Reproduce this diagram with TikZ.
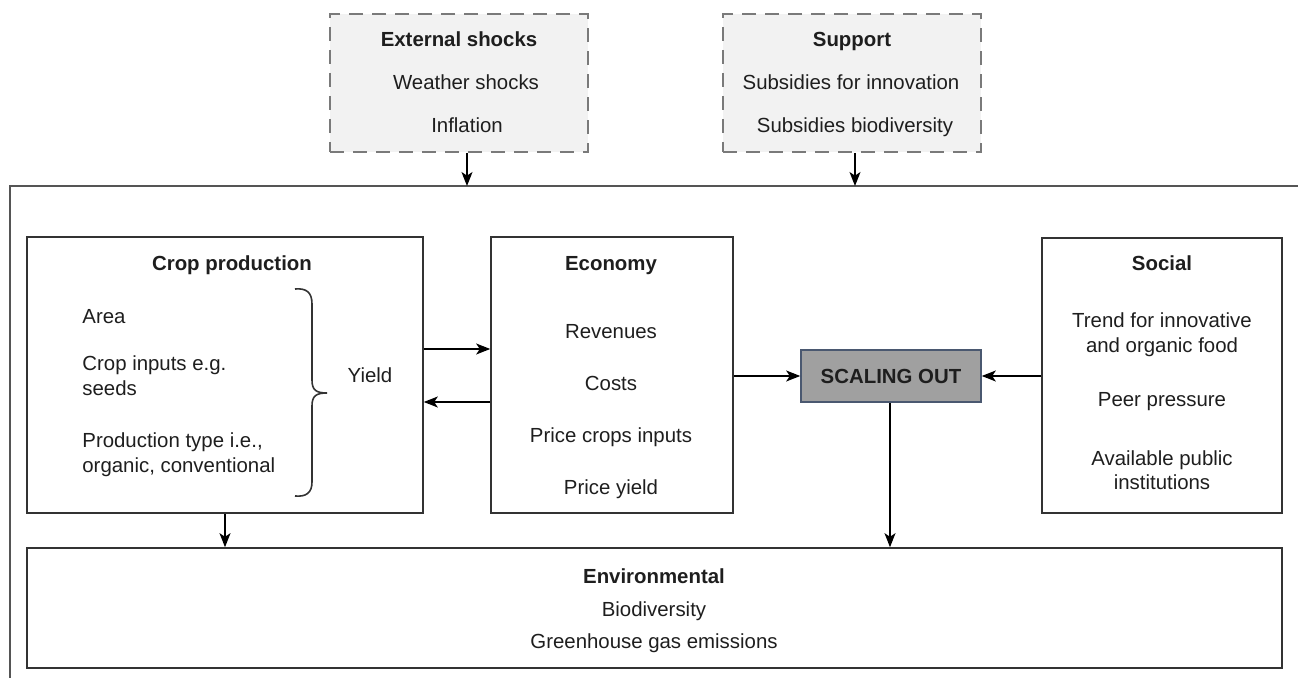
\documentclass[tikz,border=0pt]{standalone}
\usepackage{fontspec}
\setmainfont{Liberation Sans}
\usetikzlibrary{arrows.meta}
\definecolor{txtc}{HTML}{1E1E1E}
\definecolor{linec}{HTML}{333333}
\definecolor{framec}{HTML}{555555}
\definecolor{dashc}{HTML}{7A7A7A}
\definecolor{shockfill}{HTML}{F2F2F2}
\definecolor{scalefill}{HTML}{A0A0A0}
\definecolor{scaleborder}{HTML}{4A5870}
\begin{document}
\begin{tikzpicture}[x=0.5pt,y=-0.5pt,
  every node/.style={font=\fontsize{10.2pt}{12.5pt}\selectfont, text=txtc, inner sep=0pt},
  boxn/.style={draw=linec, line width=0.8pt, rectangle},
  dashbox/.style={draw=dashc, fill=shockfill, line width=0.8pt, dash pattern=on 7pt off 4.5pt, rectangle},
  txt/.style={anchor=mid, yshift=-1pt},
  ltxt/.style={anchor=mid west, yshift=-1pt},
  ttl/.style={anchor=mid, yshift=-1pt, font=\fontsize{10.2pt}{12.5pt}\selectfont\bfseries},
  arr/.style={draw=black, line width=0.65pt, -{Stealth[length=7pt,width=5.5pt,inset=1.8pt]}}
]
\useasboundingbox (0,0) rectangle (1298,678);
% outer frame
\draw[framec, line width=1pt] (10,690) -- (10,186) -- (1310,186);
\coordinate (f1) at (467,186);
\coordinate (f2) at (855,186);

% top dashed boxes
\node[dashbox, minimum width=129pt, minimum height=69pt] (ext) at (459,83) {};
\node[ttl] (extT) at (459,39) {External shocks};
\node[txt] (ext1) at (466,82) {Weather shocks};
\node[txt] (ext2) at (467,125) {Inflation};

\node[dashbox, minimum width=129pt, minimum height=69pt] (sup) at (852,83) {};
\node[ttl] (supT) at (852,39) {Support};
\node[txt] (sup1) at (851,82) {Subsidies for innovation};
\node[txt] (sup2) at (855,125) {Subsidies biodiversity};

% crop production
\node[boxn, minimum width=198pt, minimum height=138pt] (crop) at (225,375) {};
\node[ttl] (cropT) at (232,263) {Crop production};
\node[ltxt] (c1) at (82,316) {Area};
\node[ltxt] (c2) at (82,363) {Crop inputs e.g.};
\node[ltxt] (c3) at (82,388) {seeds};
\node[ltxt] (c4) at (82,440) {Production type i.e.,};
\node[ltxt] (c5) at (82,465) {organic, conventional};
\node[txt] (yield) at (370,375) {Yield};
\draw[linec, line width=0.8pt] (295,289) .. controls (306,288) and (312,292) .. (312,304)
   -- (312,380) .. controls (312,390) and (316,393) .. (327,393)
   .. controls (316,393) and (312,396) .. (312,406)
   -- (312,482) .. controls (312,493) and (306,497) .. (295,496);

% economy
\node[boxn, minimum width=121pt, minimum height=138pt] (econ) at (612,375) {};
\node[ttl] (econT) at (611,263) {Economy};
\node[txt] (e1) at (611,331) {Revenues};
\node[txt] (e2) at (611,383) {Costs};
\node[txt] (e3) at (611,435) {Price crops inputs};
\node[txt] (e4) at (611,487) {Price yield};

% scaling out
\node[draw=scaleborder, fill=scalefill, line width=0.8pt, minimum width=90pt, minimum height=26pt,
      font=\fontsize{10.2pt}{12.5pt}\selectfont\bfseries] (scale) at (891,376) {SCALING OUT};

% social
\node[boxn, minimum width=120pt, minimum height=137.5pt] (social) at (1162,375.5) {};
\node[ttl] (socT) at (1162,263) {Social};
\node[txt] (s1) at (1162,320) {Trend for innovative};
\node[txt] (s2) at (1162,345) {and organic food};
\node[txt] (s3) at (1162,399) {Peer pressure};
\node[txt] (s4) at (1162,458) {Available public};
\node[txt] (s5) at (1162,482) {institutions};

% environmental
\node[boxn, minimum width=627.5pt, minimum height=60pt] (env) at (654.5,608) {};
\node[ttl] (envT) at (654,576) {Environmental};
\node[txt] (en1) at (654,609) {Biodiversity};
\node[txt] (en2) at (654,641) {Greenhouse gas emissions};

% connectors
\draw[arr] (ext.south -| f1) -- (f1);
\draw[arr] (sup.south -| f2) -- (f2);
\draw[arr] (crop.east |- 0,349) -- (econ.west |- 0,349);
\draw[arr] (econ.west |- 0,402) -- (crop.east |- 0,402);
\draw[arr] (econ.east |- scale.west) -- (scale.west);
\draw[arr] (social.west |- scale.east) -- (scale.east);
\draw[arr] (scale.south -| 890,0) -- (env.north -| 890,0);
\draw[arr] (crop.south) -- (env.north -| crop.south);
\end{tikzpicture}
\end{document}
